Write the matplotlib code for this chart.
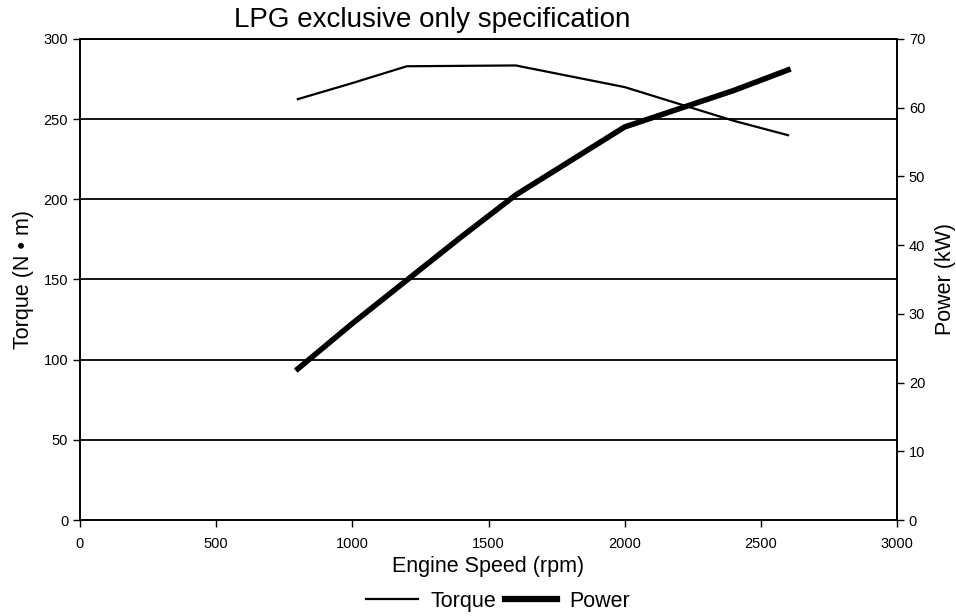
import matplotlib
matplotlib.use("Agg")
import matplotlib.pyplot as plt
from matplotlib.lines import Line2D

plt.rcParams['font.family'] = ['Liberation Sans', 'DejaVu Sans']

rpm_torque = [800, 1000, 1200, 1600, 2000, 2400, 2600]
torque = [262.5, 272.5, 283, 283.5, 270, 249, 240]
rpm_power = [800, 1000, 1200, 1400, 1600, 2000, 2400, 2600]
power = [22.0, 28.6, 34.9, 41.2, 47.3, 57.2, 62.5, 65.5]

title = "LPG exclusive only specification"
xlabel = "Engine Speed (rpm)"
ylabel_left = "Torque (N \u2022 m)"
ylabel_right = "Power (kW)"

fig = plt.figure(figsize=(9.56, 6.16), dpi=100)
ax = fig.add_axes([80/956, 96/616, 817/956, 481/616])
ax2 = ax.twinx()

for y in range(50, 301, 50):
    ax.axhline(y, color='black', lw=1.3, zorder=1)

ax.plot(rpm_torque, torque, color='black', lw=1.6, zorder=3)
ax2.plot(rpm_power, power, color='black', lw=4.0, zorder=3)

ax.set_xlim(0, 3000)
ax.set_ylim(0, 300)
ax2.set_ylim(0, 70)
ax.set_xticks(range(0, 3001, 500))
ax.set_yticks(range(0, 301, 50))
ax2.set_yticks(range(0, 71, 10))

for a in (ax, ax2):
    a.tick_params(direction='out', length=5, width=1, labelsize=10.5, colors='black')
    for s in a.spines.values():
        s.set_linewidth(1.2)
ax.tick_params(axis='x', pad=7)

ax.set_xlabel(xlabel, fontsize=15.5, labelpad=4)
ax.set_ylabel(ylabel_left, fontsize=15.5, labelpad=7)
ax2.set_ylabel(ylabel_right, fontsize=15.5, labelpad=7)
fig.text(0.452, 0.968, title, ha='center', va='center', fontsize=20)

handles = [Line2D([], [], color='black', lw=1.6), Line2D([], [], color='black', lw=4.5)]
fig.legend(handles, ['Torque', 'Power'], loc='center', bbox_to_anchor=(0.521, 0.024),
           ncol=2, frameon=False, fontsize=15.5, handlelength=2.4, columnspacing=0.4,
           handletextpad=0.6, borderpad=0)

fig.savefig("out.png", dpi=100)
